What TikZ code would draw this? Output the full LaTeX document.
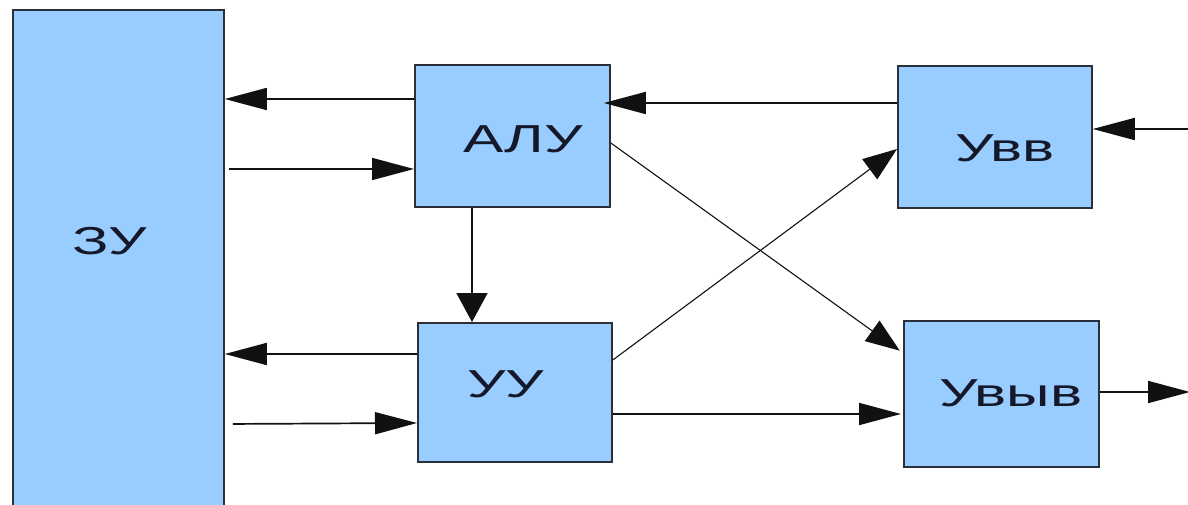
\documentclass[tikz,border=0pt]{standalone}
\usepackage{fontspec}
\setmainfont{Liberation Sans}
\usetikzlibrary{arrows.meta}
\definecolor{boxfill}{HTML}{99CCFF}
\definecolor{boxline}{HTML}{2B2F3A}
\definecolor{linecol}{HTML}{111111}
\definecolor{boxtext}{HTML}{141828}
\begin{document}
\begin{tikzpicture}[x=1pt,y=-1pt,
  box/.style={draw=boxline, fill=boxfill, line width=1.8pt, inner sep=0pt, anchor=north west},
  lbl/.style={font=\fontsize{39}{39}\selectfont, text=boxtext, inner sep=0pt},
  conn/.style={line width=1.7pt, draw=linecol, -{Triangle[length=42pt,width=22pt]}},
  vconn/.style={line width=1.7pt, draw=linecol, -{Triangle[length=29pt,width=31pt]}},
  dconn/.style={line width=1.1pt, draw=linecol, -{Triangle[length=34pt,width=25pt]}}]
\useasboundingbox (0,0) rectangle (1188,505);
\clip (0,0) rectangle (1188,505);
\node[box, minimum width=211pt, minimum height=520pt] (zu) at (12,9) {};
\node[box, minimum width=195pt, minimum height=142pt] (alu) at (414,64) {};
\node[box, minimum width=194pt, minimum height=142pt] (uvv) at (897,65) {};
\node[box, minimum width=194pt, minimum height=139pt] (uu) at (417,322) {};
\node[box, minimum width=195pt, minimum height=146pt] (uvyv) at (903,320) {};
\node[lbl] (tzu) at (110,241) {\scalebox{1.55}[1]{ЗУ}};
\node[lbl] (talu) at (523,139) {\scalebox{1.55}[1]{АЛУ}};
\node[lbl] (tuvv) at (1005,148) {\scalebox{1.55}[1]{Увв}};
\node[lbl] (tuu) at (506,384) {\scalebox{1.55}[1]{УУ}};
\node[lbl] (tuvyv) at (1011,393) {\scalebox{1.55}[1]{Увыв}};
\coordinate (inR) at (1190,129);
\coordinate (outR) at (1190,392);
\draw[conn] (alu.west |- 0,99) -- (zu.east |- 0,99);
\draw[conn, shorten <=4pt] (zu.east |- 0,169) -- (alu.west |- 0,169);
\draw[conn, shorten >=-7pt] (uvv.west |- 0,103) -- (alu.east |- 0,103);
\draw[conn] (inR) -- (uvv.east |- inR);
\draw[vconn] (alu.south -| 472,0) -- (uu.north -| 472,0);
\draw[dconn, shorten >=4pt] (alu.east |- 0,143) -- (uvyv.west |- 0,353);
\draw[dconn] (uu.east |- 0,360) -- (uvv.west |- 0,149);
\draw[conn] (uu.west |- 0,354) -- (zu.east |- 0,354);
\draw[conn, shorten <=8pt] (zu.east |- 0,424) -- (uu.west |- 0,423);
\draw[conn, shorten >=2pt] (uu.east |- 0,414) -- (uvyv.west |- 0,414);
\draw[conn] (uvyv.east |- outR) -- (outR);
\end{tikzpicture}
\end{document}
